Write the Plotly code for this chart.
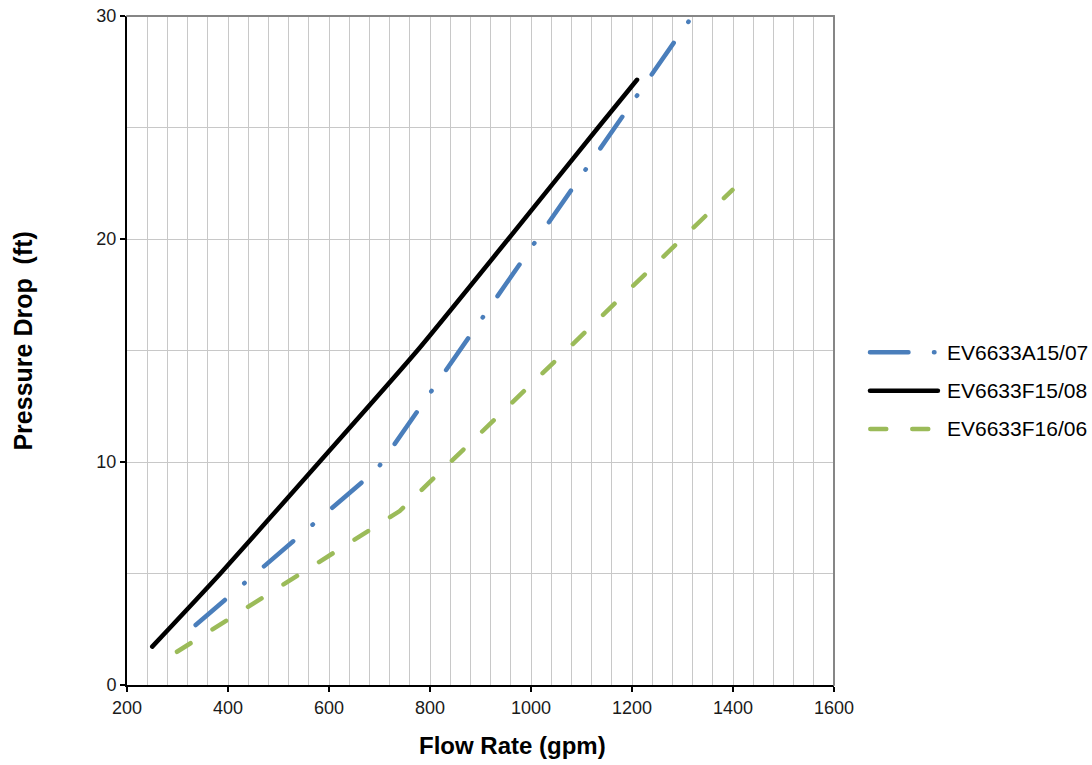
import plotly.graph_objects as go

# ---- data ----
series_names = ["EV6633A15/07", "EV6633F15/08", "EV6633F16/06"]

flow_a15 = [336, 695, 1315]
dp_a15 = [2.69, 9.67, 29.85]

flow_f15 = [250, 385, 581, 775, 955, 1133, 1210]
dp_f15 = [1.72, 5.0, 10.0, 15.0, 20.0, 25.0, 27.14]

flow_f16 = [299, 740, 1399]
dp_f16 = [1.49, 7.80, 22.2]

x_ticks = [200, 400, 600, 800, 1000, 1200, 1400, 1600]
y_ticks = [0, 10, 20, 30]

# ---- styles ----
BLUE = "#4A7EBB"
GREEN = "#9BBB59"
BLACK = "#000000"
LW = 4.5
DASH_A = "38.5px,25.5px,0.5px,25.5px"
DASH_C = "16px,26px"
FONT = "Liberation Sans, Arial, sans-serif"

W, H = 1092, 765
L, R, T, B = 126.5, 834, 16, 685  # plot area in pixels

fig = go.Figure()
fig.add_trace(go.Scatter(x=flow_a15, y=dp_a15, mode="lines", name=series_names[0],
                         line=dict(color=BLUE, width=LW, dash=DASH_A)))
fig.add_trace(go.Scatter(x=flow_f15, y=dp_f15, mode="lines", name=series_names[1],
                         line=dict(color=BLACK, width=LW, shape="spline", smoothing=0.6)))
fig.add_trace(go.Scatter(x=flow_f16, y=dp_f16, mode="lines", name=series_names[2],
                         line=dict(color=GREEN, width=LW, dash=DASH_C)))


def px_x(p):
    return (p - L) / (R - L)


def px_y(p):
    return (B - p) / (B - T)


shapes = [
    # top and right frame (gray)
    dict(type="line", xref="paper", yref="paper", x0=0, x1=1, y0=1, y1=1,
         line=dict(color="#868686", width=2)),
    dict(type="line", xref="paper", yref="paper", x0=1, x1=1, y0=0, y1=1,
         line=dict(color="#868686", width=2)),
]

# manual legend (long samples as in the reference)
legend_rows = [
    (series_names[0], BLUE, DASH_A, 352.3, 870, 936),
    (series_names[1], BLACK, "solid", 390.7, 870, 938),
    (series_names[2], GREEN, DASH_C, 429.0, 870.3, 930),
]
annotations = []
for name, col, dash, ypx, x0, x1 in legend_rows:
    shapes.append(dict(type="line", xref="paper", yref="paper",
                       x0=px_x(x0), x1=px_x(x1), y0=px_y(ypx), y1=px_y(ypx),
                       line=dict(color=col, width=LW, dash=dash)))
    annotations.append(dict(text=name, xref="paper", yref="paper", x=px_x(945), y=px_y(ypx),
                            xanchor="left", yanchor="middle", showarrow=False,
                            font=dict(family=FONT, size=21, color="#000000")))

# axis titles
annotations.append(dict(text="<b>Flow Rate (gpm)</b>", xref="paper", yref="paper",
                        x=px_x(512), y=px_y(746), xanchor="center", yanchor="middle",
                        showarrow=False, font=dict(family=FONT, size=24, color="#000000")))
annotations.append(dict(text="<b>Pressure Drop\u00a0 (ft)</b>", xref="paper", yref="paper",
                        x=px_x(22), y=px_y(341), xanchor="center", yanchor="middle",
                        textangle=-90, showarrow=False,
                        font=dict(family=FONT, size=25, color="#000000")))

axis_common = dict(
    showgrid=True, gridcolor="#C8C8C8", gridwidth=1,
    showline=True, linecolor="#000000", linewidth=2,
    ticks="outside", ticklen=5, tickcolor="#000000", tickwidth=1.5,
    zeroline=False, automargin=False, tickfont=dict(family=FONT, size=18, color="#1a1a1a"),
)

fig.update_layout(
    template="none",
    width=W, height=H, autosize=False,
    margin=dict(l=L, r=W - R, t=T, b=H - B, pad=0),
    paper_bgcolor="white", plot_bgcolor="white",
    showlegend=False,
    font=dict(family=FONT, size=18, color="#1a1a1a"),
    shapes=shapes, annotations=annotations,
    xaxis=dict(range=[200, 1600], tickvals=x_ticks, ticktext=[str(v) for v in x_ticks],
               minor=dict(dtick=40, showgrid=True, gridcolor="#C8C8C8", gridwidth=1, ticks=""),
               **axis_common),
    yaxis=dict(range=[0, 30], tickvals=y_ticks, ticktext=[str(v) for v in y_ticks],
               minor=dict(dtick=5, showgrid=True, gridcolor="#C8C8C8", gridwidth=1, ticks=""),
               **axis_common),
)

post = ("var s=document.createElement('style');"
        "s.innerHTML='body{margin:0 !important;} path.js-line{stroke-linecap:round !important;} "
        ".shapelayer path{stroke-linecap:round;}';"
        "document.head.appendChild(s);")

fig.write_html("out.html", post_script=post, config={"displayModeBar": False})
